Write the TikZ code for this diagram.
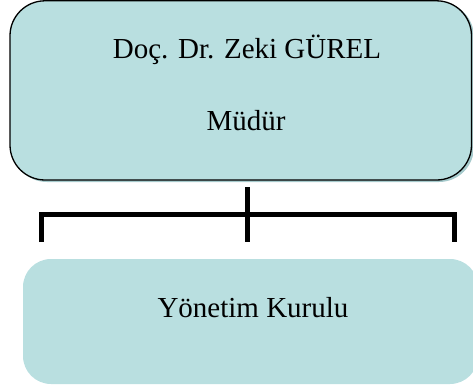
\documentclass[tikz,border=0pt]{standalone}
\usepackage{fontspec}
\setmainfont{Liberation Serif}
\definecolor{boxfill}{HTML}{B9DFE0}
\definecolor{shadowc}{HTML}{A6CACC}
\begin{document}
\begin{tikzpicture}[x=1pt,y=-1pt,
  txt/.style={font=\fontsize{29}{33}\selectfont, text=black},
  bar/.style={line width=5pt, line cap=butt, line join=miter}]
\useasboundingbox (0,0) rectangle (473,390);
% top box with shadow
\fill[shadowc, rounded corners=35pt] (12,2) rectangle (474,182);
\draw[rounded corners=35pt, fill=boxfill, line width=1.3pt] (10,0.8) rectangle (471.5,180);
\node[txt] (t1) at (247,50) {Doç. Dr. Zeki GÜREL};
\node[txt] (t2) at (246,121) {Müdür};
% bottom box
\fill[boxfill, rounded corners=28pt] (23,259) rectangle (478,384);
\node[txt] (b1) at (253,308) {Yönetim Kurulu};
% bracket
\coordinate (vtop) at (247,187);
\coordinate (hmid) at (247,214);
\coordinate (vbot) at (247,242);
\coordinate (lb) at (41,242);
\coordinate (rb) at (454,242);
\draw[bar] (vtop) -- (vbot);
\draw[bar] (lb) -- (lb |- hmid) -- (rb |- hmid) -- (rb);
\end{tikzpicture}
\end{document}
